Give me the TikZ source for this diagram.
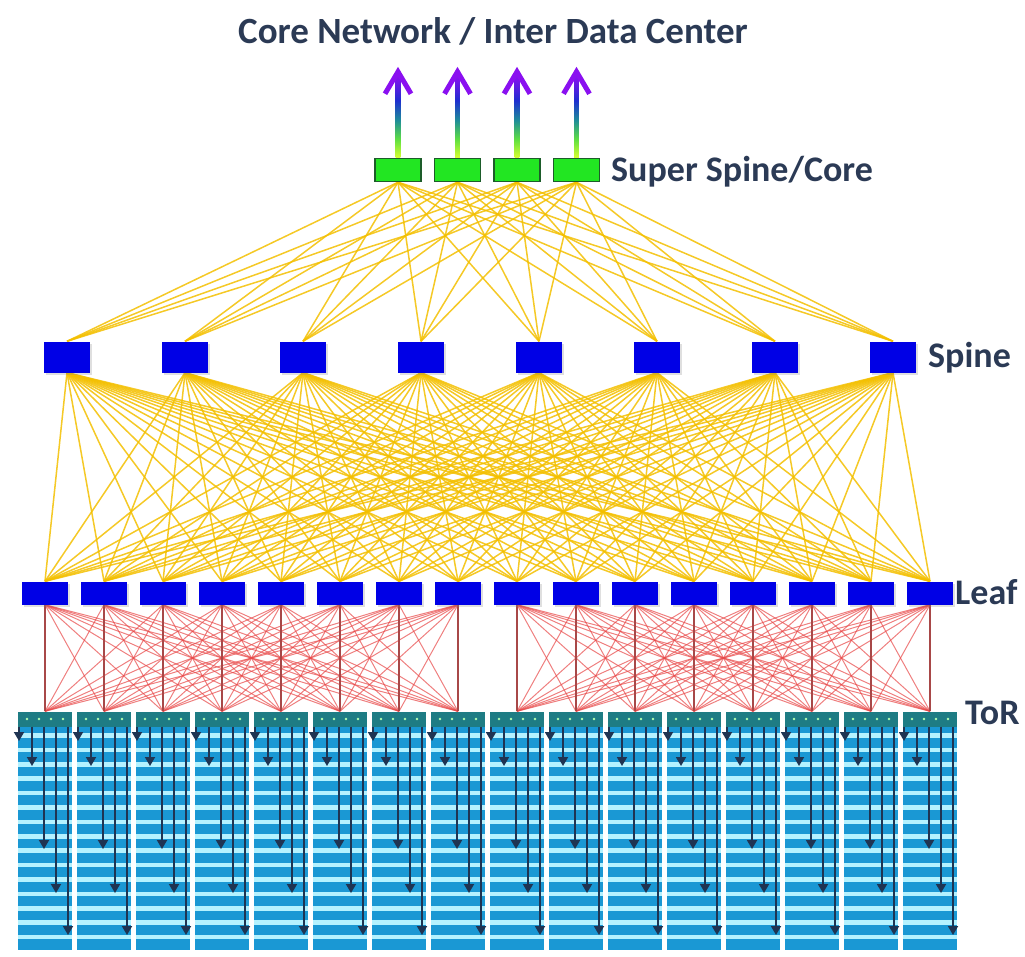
\documentclass[tikz,border=0pt]{standalone}
\usepackage{fontspec}
\setmainfont{Carlito}
\usetikzlibrary{arrows.meta,shadows}
\definecolor{txt}{HTML}{2B3A55}
\definecolor{boxblue}{HTML}{0000E6}
\definecolor{boxgreen}{HTML}{22E622}
\definecolor{boxgreenedge}{HTML}{1D5C2A}
\definecolor{ylw}{HTML}{F3BF00}
\definecolor{rd}{HTML}{E84848}
\definecolor{rdv}{HTML}{A84848}
\definecolor{rackblue}{HTML}{1A98D4}
\definecolor{rackstripe}{HTML}{B4F2FF}
\definecolor{rackarrow}{HTML}{1F3452}
\definecolor{torbar}{HTML}{1E7C84}
\definecolor{arrtop}{HTML}{8A10F0}
\definecolor{arrmid}{HTML}{1E2ED0}
\definecolor{arrteal}{HTML}{1E8C9A}
\definecolor{arrgreen}{HTML}{60E040}
\definecolor{arrbot}{HTML}{D8FF30}
\pgfdeclareverticalshading{upshade}{100bp}{color(0bp)=(arrbot); color(25bp)=(arrbot); color(36bp)=(arrgreen); color(48bp)=(arrteal); color(60bp)=(arrmid); color(75bp)=(arrtop); color(100bp)=(arrtop)}
\pgfdeclarelayer{bg}
\pgfsetlayers{bg,main}
\begin{document}
\begin{tikzpicture}[x=1pt,y=-1pt,
  superbox/.style={rectangle, fill=boxgreen, draw=boxgreenedge, line width=1.5pt,
    minimum width=46pt, minimum height=23pt, inner sep=0pt},
  spinebox/.style={rectangle, fill=boxblue, minimum width=46pt, minimum height=31pt, inner sep=0pt,
    drop shadow={shadow xshift=1.5pt, shadow yshift=-2pt, opacity=0.25}},
  leafbox/.style={rectangle, fill=boxblue, minimum width=46pt, minimum height=23pt, inner sep=0pt,
    drop shadow={shadow xshift=1.5pt, shadow yshift=-2pt, opacity=0.25}},
  torbox/.style={rectangle, fill=torbar, minimum width=54pt, minimum height=15pt, inner sep=0pt},
  yline/.style={draw=ylw, line width=1.5pt, opacity=0.85},
  rline/.style={draw=rd, line width=1pt, opacity=0.7},
  rvline/.style={draw=rdv, line width=1.1pt},
  rackarr/.style={draw=rackarrow, line width=1.8pt, -{Triangle[width=10pt,length=9pt]}},
  lbl/.style={text=txt, font=\bfseries\fontsize{36}{40}\selectfont, anchor=west, inner sep=0pt},
]
\useasboundingbox (0,0) rectangle (1025,956);

% nodes
\foreach \i in {0,...,3} \node[superbox] (c\i) at ({398+59.5*\i},170) {};
\foreach \j in {0,...,7} \node[spinebox] (s\j) at ({67+118*\j},357) {};
\foreach \k in {0,...,15} \node[leafbox] (l\k) at ({45+59*\k},593) {};
\foreach \k in {0,...,15} \node[torbox] (t\k) at ({45+59*\k},719) {};

% racks (servers)
\foreach \k in {0,...,15} {
  \pgfmathsetmacro\cx{45+59*\k}
  \fill[rackblue] ({\cx-27},727) rectangle ({\cx+27},950);
  \foreach \m in {0,...,14}
    \fill[rackstripe] ({\cx-27},{733.2+14.4*\m}) rectangle ({\cx+27},{737.8+14.4*\m});
  \foreach \d in {-18,-6,6,18}
    \fill[white!70!green] ({\cx+\d},719) circle (1.4pt);
  \draw[rackarr] ([xshift=-26pt]t\k.south) -- ({\cx-26},741);
  \draw[rackarr] ([xshift=-13pt]t\k.south) -- ({\cx-13},766);
  \draw[rackarr] ([xshift=-1pt]t\k.south) -- ({\cx-1},849);
  \draw[rackarr] ([xshift=11pt]t\k.south) -- ({\cx+11},893);
  \draw[rackarr] ([xshift=23pt]t\k.south) -- ({\cx+23},935);
}

% up arrows from super spine
\foreach \i in {0,...,3} {
  \shade[shading=upshade]
    ([xshift=-2.4pt]c\i.north) rectangle ([xshift=2.4pt,yshift=82pt]c\i.north);
  \coordinate (u\i) at ([yshift=86pt]c\i.north);
  \draw[arrtop, line width=5pt, line join=miter]
    ([xshift=-13pt,yshift=-22pt]u\i) -- (u\i) -- ([xshift=13pt,yshift=-22pt]u\i);
}

% connectors
\begin{pgfonlayer}{bg}
\foreach \i in {0,...,3} \foreach \j in {0,...,7} \draw[yline] (c\i.south) -- (s\j.north);
\foreach \j in {0,...,7} \foreach \k in {0,...,15} \draw[yline] (s\j.south) -- (l\k.north);
\foreach \g in {0,8} \foreach \a in {0,...,7} \foreach \b in {0,...,7} {
  \pgfmathtruncatemacro\p{\g+\a}
  \pgfmathtruncatemacro\q{\g+\b}
  \draw[rline] (l\p.south) -- (t\q.north);
}
\foreach \k in {0,...,15} \draw[rvline] (l\k.south) -- (t\k.north);
\end{pgfonlayer}

% labels
\node[text=txt, font=\bfseries\fontsize{37}{42}\selectfont, inner sep=0pt] (title) at (493,31) {Core Network / Inter Data Center};
\node[lbl] (lsuper) at (611,172) {Super Spine/Core};
\node[lbl] (lspine) at (928,358) {Spine};
\node[lbl] (lleaf) at (955,592) {Leaf};
\node[lbl] (ltor) at (965,713) {ToR};
\end{tikzpicture}
\end{document}
